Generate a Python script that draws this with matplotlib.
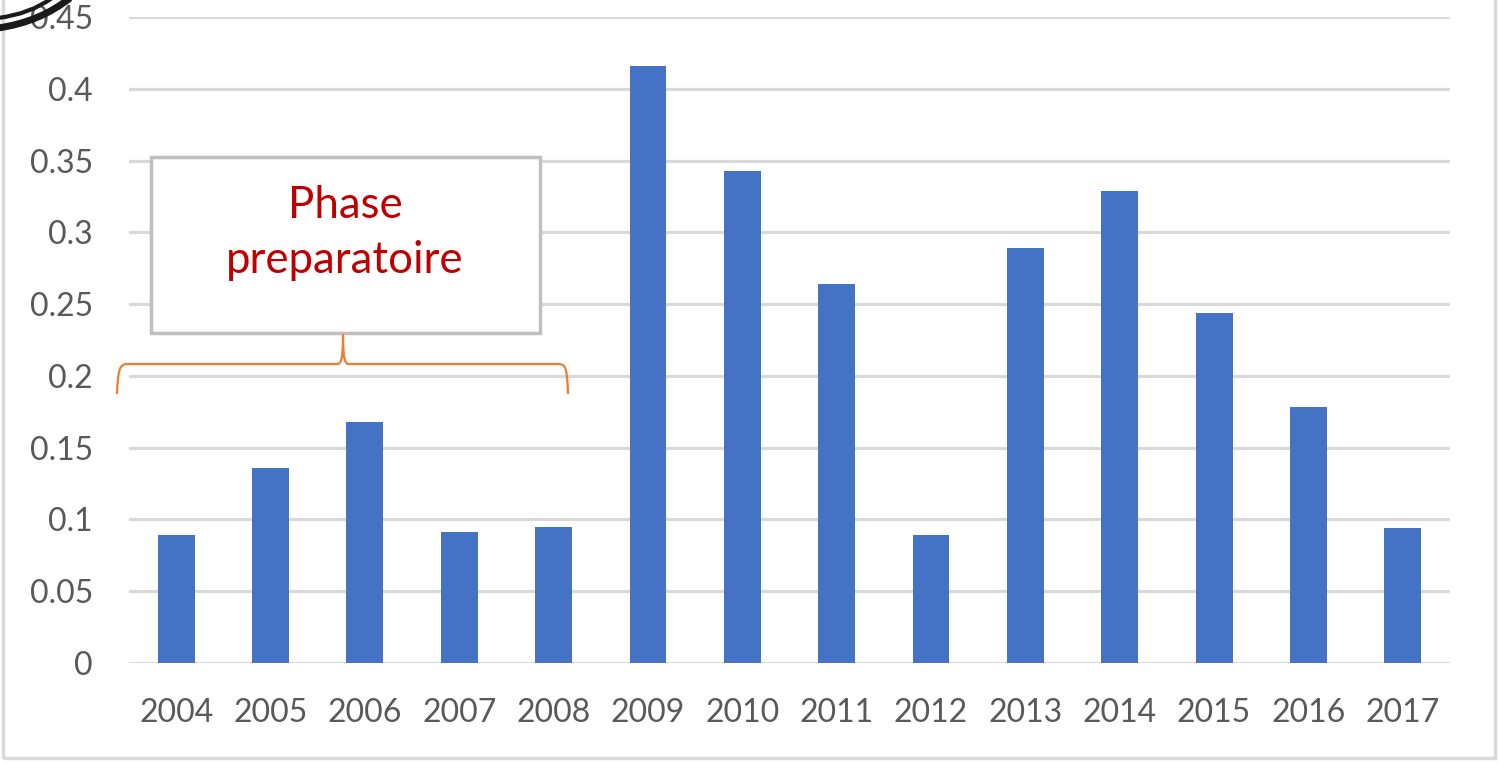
import matplotlib
matplotlib.use("Agg")
import matplotlib.pyplot as plt
from matplotlib.path import Path
from matplotlib.patches import PathPatch, Rectangle
import numpy as np

years = ["2004", "2005", "2006", "2007", "2008", "2009", "2010",
         "2011", "2012", "2013", "2014", "2015", "2016", "2017"]
values = [0.089, 0.136, 0.168, 0.091, 0.095, 0.416, 0.343,
          0.264, 0.089, 0.289, 0.329, 0.244, 0.178, 0.094]
yticks = [0, 0.05, 0.1, 0.15, 0.2, 0.25, 0.3, 0.35, 0.4, 0.45]
ytick_labels = ["0", "0.05", "0.1", "0.15", "0.2", "0.25", "0.3", "0.35", "0.4", "0.45"]
annotation = "Phase\npreparatoire"

W, H = 1499, 764
plt.rcParams['font.family'] = ['Lato', 'DejaVu Sans']
fig = plt.figure(figsize=(W / 100, H / 100), dpi=100)

def fx(x):
    return x / W

def fy(y):
    return 1 - y / H

ax = fig.add_axes([fx(129), fy(663), fx(1450) - fx(129), fy(17) - fy(663)])
x = np.arange(len(years))
ax.bar(x, values, width=0.39, color="#4472C4", zorder=3)
ax.set_xlim(-0.5, len(years) - 0.5)
ax.set_ylim(0, 0.45)
ax.set_yticks(yticks)
ax.set_yticklabels(ytick_labels)
ax.set_xticks(x)
ax.set_xticklabels(years)
ax.tick_params(axis='both', length=0, labelsize=23, labelcolor="#595959")
ax.tick_params(axis='y', pad=26)
ax.tick_params(axis='x', pad=25)
ax.grid(axis='y', color="#d9d9d9", linewidth=2.3, zorder=0)
for s in ax.spines.values():
    s.set_visible(False)

# chart border
fig.patches.append(Rectangle((fx(2.5), fy(758)), fx(1495) - fx(2.5), fy(-10) - fy(758),
                             transform=fig.transFigure, fill=False,
                             edgecolor="#d9d9d9", linewidth=2.5, zorder=0))

# annotation box
fig.patches.append(Rectangle((fx(151), fy(333)), fx(540) - fx(151), fy(157) - fy(333),
                             transform=fig.transFigure, facecolor="white",
                             edgecolor="#bfbfbf", linewidth=2.5, zorder=5))
fig.text(fx(345), fy(233), annotation, ha='center', va='center', color="#C00000",
         fontsize=31.5, linespacing=1.45, zorder=6)

# brace
pts = [(117, 394), (118, 368), (120, 364), (128, 364), (337, 364),
       (341, 364), (343, 360), (343, 334),
       (343, 360), (345, 364), (349, 364), (558, 364),
       (566, 364), (567, 368), (568, 394)]
codes = [Path.MOVETO, Path.CURVE4, Path.CURVE4, Path.CURVE4, Path.LINETO,
         Path.CURVE4, Path.CURVE4, Path.CURVE4,
         Path.CURVE4, Path.CURVE4, Path.CURVE4, Path.LINETO,
         Path.CURVE4, Path.CURVE4, Path.CURVE4]
brace = Path([(fx(a), fy(b)) for a, b in pts], codes)
fig.patches.append(PathPatch(brace, transform=fig.transFigure, fill=False,
                             edgecolor="#ED7D31", linewidth=1.6, zorder=6))

# black arcs top-left
arc1 = Path([(fx(-2), fy(28)), (fx(40), fy(22)), (fx(70), fy(-2))],
            [Path.MOVETO, Path.CURVE3, Path.CURVE3])
arc2 = Path([(fx(-2), fy(18)), (fx(30), fy(14)), (fx(52), fy(-2))],
            [Path.MOVETO, Path.CURVE3, Path.CURVE3])
fig.patches.append(PathPatch(arc1, transform=fig.transFigure, fill=False,
                             edgecolor="#1a1a1a", linewidth=5, zorder=7))
fig.patches.append(PathPatch(arc2, transform=fig.transFigure, fill=False,
                             edgecolor="#1a1a1a", linewidth=3, zorder=7))

fig.savefig("out.png", dpi=100)
